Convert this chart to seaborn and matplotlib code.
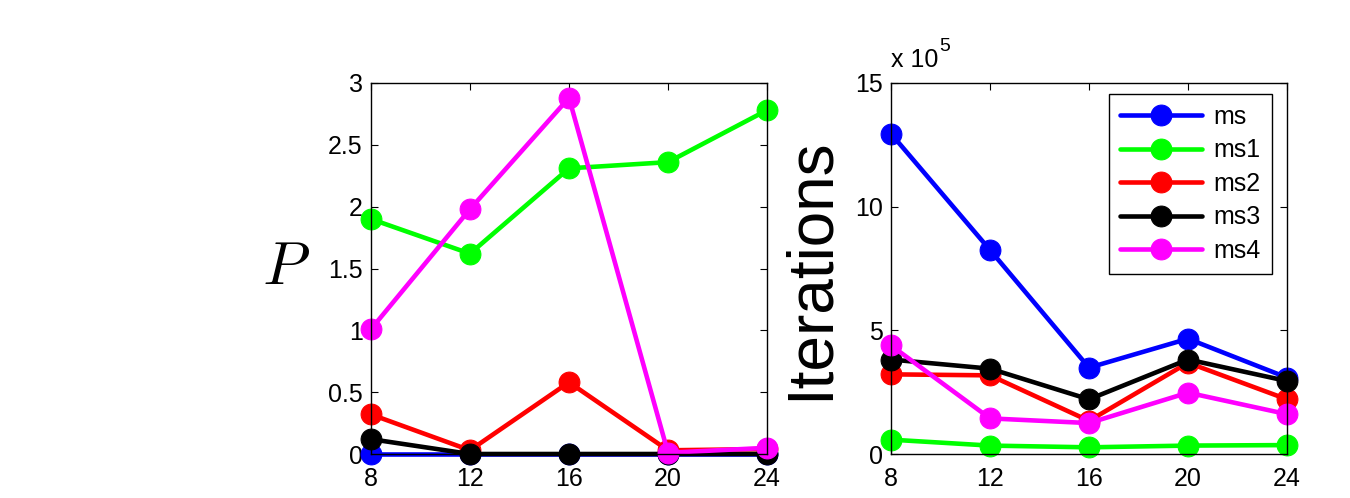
import matplotlib
matplotlib.use("Agg")
import matplotlib.pyplot as plt
import seaborn as sns
import pandas as pd
from matplotlib.ticker import FuncFormatter

sns.set_style("ticks")
plt.rcParams["font.family"] = ["Liberation Sans", "DejaVu Sans"]
plt.rcParams["mathtext.fontset"] = "cm"
plt.rcParams["text.color"] = "black"
plt.rcParams["axes.labelcolor"] = "black"
plt.rcParams["xtick.color"] = "black"
plt.rcParams["ytick.color"] = "black"

# problem sizes on the x axis
sizes = [8, 12, 16, 20, 24]
methods = ["ms", "ms1", "ms2", "ms3", "ms4"]
colors = ["#0000ff", "#00ff00", "#ff0000", "#000000", "#ff00ff"]

# P for each method
p_ms = [0.0, 0.0, 0.0, 0.0, 0.0]
p_ms1 = [1.90, 1.62, 2.31, 2.36, 2.78]
p_ms2 = [0.32, 0.03, 0.58, 0.03, 0.04]
p_ms3 = [0.12, 0.0, 0.0, 0.0, 0.0]
p_ms4 = [1.01, 1.98, 2.88, 0.01, 0.05]

# iteration counts for each method
it_ms = [1295000, 825000, 349000, 466000, 309000]
it_ms1 = [58000, 34000, 27000, 34000, 36000]
it_ms2 = [322000, 318000, 134000, 369000, 221000]
it_ms3 = [382000, 345000, 221000, 382000, 295000]
it_ms4 = [439000, 144000, 125000, 248000, 161000]

p_values = [p_ms, p_ms1, p_ms2, p_ms3, p_ms4]
it_values = [it_ms, it_ms1, it_ms2, it_ms3, it_ms4]

fig = plt.figure(figsize=(13.5, 4.98), dpi=100)
ax1 = fig.add_axes([371 / 1350, 1 - 454 / 498, 396 / 1350, 371 / 498])
ax2 = fig.add_axes([891 / 1350, 1 - 454 / 498, 396 / 1350, 371 / 498])

line_kw = dict(marker="o", markersize=15, linewidth=3.3, clip_on=False)

for ax, series in ((ax1, p_values), (ax2, it_values)):
    for name, vals, col in zip(methods, series, colors):
        df = pd.DataFrame({"n": sizes, "v": vals})
        sns.lineplot(data=df, x="n", y="v", ax=ax, color=col,
                     markeredgecolor=col, label=name, legend=False, **line_kw)

for ax in (ax1, ax2):
    ax.set_xlim(8, 24)
    ax.set_xticks(sizes)
    ax.set_xlabel("")
    ax.set_ylabel("")
    ax.tick_params(axis="both", direction="in", length=5, width=0.8,
                   labelsize=18, top=True, right=True, color="black",
                   labelcolor="black")
    ax.tick_params(axis="x", pad=9)
    ax.tick_params(axis="y", pad=6)
    for s in ax.spines.values():
        s.set_visible(True)
        s.set_linewidth(1.0)
        s.set_color("black")
    ax.set_facecolor("white")

ax1.set_ylim(0, 3)
ax1.set_yticks([0, 0.5, 1, 1.5, 2, 2.5, 3])
ax1.yaxis.set_major_formatter(FuncFormatter(lambda v, p: f"{v:g}"))
ax1.set_ylabel(r"$P$", fontsize=44, rotation=0, labelpad=30, va="center")

ax2.set_ylim(0, 1500000)
ax2.set_yticks([0, 500000, 1000000, 1500000])
ax2.yaxis.set_major_formatter(FuncFormatter(lambda v, p: f"{v / 1e5:g}"))
ax2.set_ylabel("Iterations", fontsize=46, labelpad=10)
ax2.text(0.0, 1.03, "x 10", transform=ax2.transAxes, fontsize=18,
         ha="left", va="bottom")
ax2.text(0.122, 1.075, "5", transform=ax2.transAxes, fontsize=14,
         ha="left", va="bottom")

handles, labels = ax2.get_legend_handles_labels()
leg = ax2.legend(handles, labels, loc="upper right", bbox_to_anchor=(0.975, 0.985),
                 fontsize=18, handlelength=3.3, labelspacing=0.38,
                 fancybox=False, framealpha=1, edgecolor="black",
                 borderpad=0.45, handletextpad=0.45, borderaxespad=0.2)
leg.get_frame().set_linewidth(1.0)

fig.savefig("out.png", dpi=100, facecolor="white")
